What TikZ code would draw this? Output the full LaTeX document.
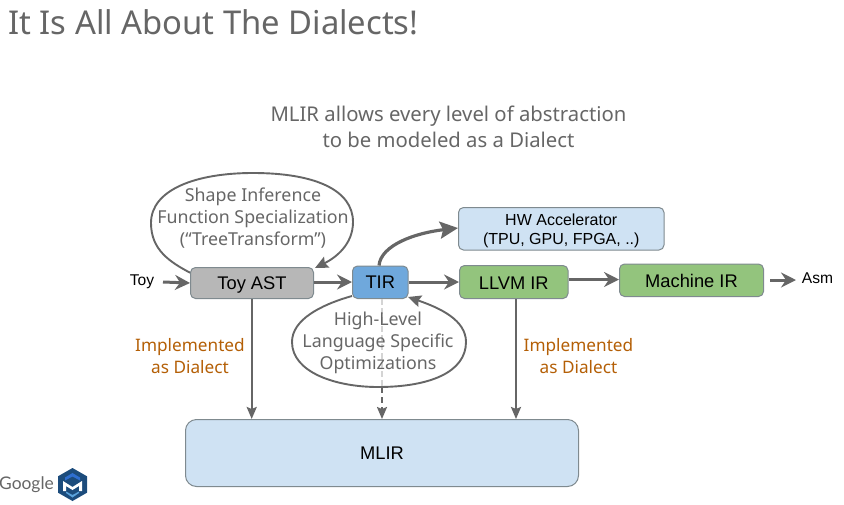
\documentclass[tikz,border=0pt]{standalone}
\usepackage{fontspec}
\setmainfont{Noto Sans}
\newfontfamily\arialf{Liberation Sans}
\newfontfamily\logof{Lato}
\usetikzlibrary{arrows.meta}
\newcommand\padtop[2]{\raisebox{0pt}[\dimexpr\height+#1\relax][\depth]{#2}}
\definecolor{edgegray}{HTML}{666666}
\definecolor{boxline}{HTML}{7F8A8F}
\definecolor{lblue}{HTML}{CFE2F3}
\definecolor{mblue}{HTML}{6FA8DC}
\definecolor{lgreen}{HTML}{93C47D}
\definecolor{lgray}{HTML}{B7B7B7}
\definecolor{orangetxt}{HTML}{B45F06}
\definecolor{logodark}{HTML}{1C4C7C}
\definecolor{logomid}{HTML}{2F6FD0}
\definecolor{logolight}{HTML}{5BA3DC}
\tikzset{
  x=1pt,y=-1pt,
  boxn/.style={draw=boxline,line width=1pt,rounded corners=5pt,anchor=north west,inner sep=0pt,text=black},
  boxtxt/.style={font=\arialf\fontsize{18.3}{22}\selectfont},
  graytxt/.style={text=edgegray,font=\fontsize{17.8}{22}\selectfont,align=center,inner sep=0pt},
  redtxt/.style={text=orangetxt,font=\fontsize{17.2}{22}\selectfont,align=center,inner sep=0pt},
  smalltxt/.style={text=black,font=\arialf\fontsize{15.6}{18}\selectfont,inner sep=0pt},
  thickarrow/.style={draw=edgegray,line width=3pt,-{Stealth[length=15pt,width=15pt,inset=5pt]}},
  midarrow/.style={draw=edgegray,line width=2.2pt,-{Stealth[length=12pt,width=10pt,inset=2pt]}},
  looparrow/.style={draw=edgegray,line width=1.9pt,-{Stealth[length=13pt,width=12pt,inset=2pt]}},
}
\begin{document}
\begin{tikzpicture}
\useasboundingbox (0,0) rectangle (844,504);
\node[anchor=west,inner sep=0pt,text=edgegray,font=\fontsize{32.8}{38}\selectfont] (title) at (8,22) {It Is All About The Dialects!};
\node[text=edgegray,font=\fontsize{20.3}{26}\selectfont,align=center,inner sep=0pt] (sub) at (448.5,127) {MLIR allows every level of abstraction\\to be modeled as a Dialect};

\node[boxn,boxtxt,fill=lgray,minimum width=123pt,minimum height=31pt] (toy) at (190,267) {\padtop{3.5pt}{Toy AST}};
\node[boxn,boxtxt,fill=mblue,minimum width=55.5pt,minimum height=32.5pt] (tir) at (352,265.5) {TIR};
\node[boxn,fill=lblue,minimum width=205.5pt,minimum height=42.5pt,align=center,font=\arialf\fontsize{16}{19}\selectfont] (hw) at (458,207) {\padtop{3.5pt}{HW Accelerator}\\(TPU, GPU, FPGA, ..)};
\node[boxn,boxtxt,fill=lgreen,minimum width=108.5pt,minimum height=33pt] (llvm) at (459,265) {\padtop{2pt}{LLVM IR}};
\node[boxn,boxtxt,fill=lgreen,minimum width=144pt,minimum height=32.5pt] (mach) at (619,263.5) {\padtop{2pt}{Machine IR}};
\node[boxn,boxtxt,fill=lblue,minimum width=393pt,minimum height=67pt,rounded corners=11pt] (mlir) at (185,419) {MLIR};

\node[smalltxt] (toytxt) at (142,282) {Toy};
\node[smalltxt] (asm) at (817.5,278.5) {Asm};

\coordinate (toyout) at (163,282);
\coordinate (toyin) at (toy.west);
\draw[thickarrow] (toyout) -- (toyin);
\draw[thickarrow] (toy.east |- 0,282) -- (tir.west |- 0,282);
\draw[thickarrow] (tir.east |- 0,282) -- (llvm.west |- 0,282);
\draw[thickarrow] (llvm.east |- 0,279.5) -- (mach.west |- 0,279.5);
\coordinate (machout) at (770,280);
\coordinate (asmin) at (796,280);
\draw[thickarrow] (machout) -- (asmin);

\coordinate (hwup) at (379,265.5);
\draw[thickarrow,line width=3.2pt,-{Stealth[length=18pt,width=17pt,inset=3pt]}] (hwup) .. controls (381,245) and (415,233) .. (hw.west |- 0,228);

% self loops
\draw[looparrow] (190,272.7) .. controls (170,262) and (151,250) .. (151,223)
  .. controls (151,190) and (195,173) .. (253,173)
  .. controls (315,173) and (353,190) .. (353,222)
  .. controls (353,245) and (335,258) .. (315,268);
\draw[looparrow] (352,296) .. controls (320,305) and (292,320) .. (292,342)
  .. controls (292,372) and (335,387) .. (378,387)
  .. controls (430,387) and (466,372) .. (466,342)
  .. controls (466,320) and (440,308) .. (408,297);

% down arrows
\draw[midarrow] (toy.south -| 251.7,0) -- (mlir.north -| 251.7,0);
\draw[midarrow] (llvm.south -| 516,0) -- (mlir.north -| 516,0);
\draw[draw=lgray!60,line width=2pt,dash pattern=on 6pt off 3pt] (tir.south -| 382,0) -- (382,387);
\draw[edgegray,line width=2pt,dash pattern=on 6pt off 4pt,-{Stealth[length=12pt,width=10pt,inset=2pt]}] (382,387) -- (mlir.north -| 382,0);

\node[graytxt] (shape) at (253,218) {Shape Inference\\Function Specialization\\(“TreeTransform”)};
\node[graytxt] (hl) at (378,343) {High-Level\\Language Specific\\Optimizations};
\node[redtxt] (impl1) at (190,356) {Implemented\\as Dialect};
\node[redtxt] (impl2) at (578.5,356) {Implemented\\as Dialect};

% logo
\node[anchor=east,inner sep=0pt,text=edgegray,font=\logof\fontsize{17.4}{20}\selectfont] (google) at (54,484.5) {Google};
\fill[logodark] (72.5,468) -- (87,476.3) -- (87,492.7) -- (72.5,501) -- (58,492.7) -- (58,476.3) -- cycle;
\fill[logomid] (72.5,473) -- (80,477.5) -- (80,480.5) -- (72.5,476.5) -- (65,480.5) -- (65,477.5) -- cycle;
\fill[white] (63,481) -- (72.5,487) -- (82,481) -- (82,491) -- (79,491) -- (79,486) -- (72.5,490) -- (66,486) -- (66,491) -- (63,491) -- cycle;
\fill[logolight] (66,491.5) -- (72.5,495) -- (79,491.5) -- (79,493) -- (72.5,497.5) -- (66,493) -- cycle;
\end{tikzpicture}
\end{document}
